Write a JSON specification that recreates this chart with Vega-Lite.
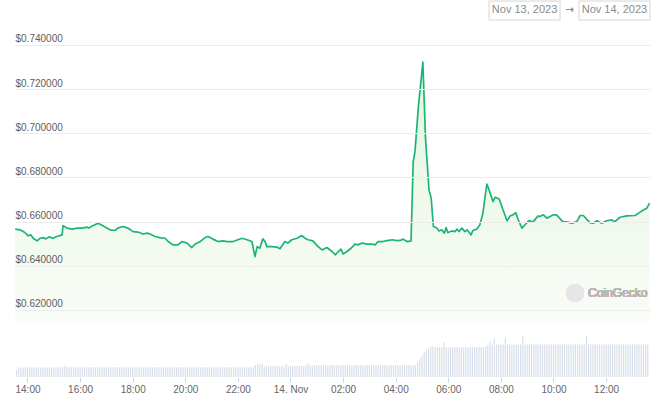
{
"$schema":"https://vega.github.io/schema/vega-lite/v6.json",
"width":635,"height":347,
"autosize":{"type":"none"},
"padding":{"left":15,"right":15,"top":30,"bottom":27},
"background":"white",
"config":{"view":{"stroke":null}},
"datasets":{
"price":[
{"t":"2023-11-13T13:32Z","p":0.6566},{"t":"2023-11-13T13:43Z","p":0.6563},{"t":"2023-11-13T13:54Z","p":0.6551},{"t":"2023-11-13T14:01Z","p":0.6537},{"t":"2023-11-13T14:08Z","p":0.6540},{"t":"2023-11-13T14:13Z","p":0.6525},{"t":"2023-11-13T14:22Z","p":0.6513},{"t":"2023-11-13T14:29Z","p":0.6525},{"t":"2023-11-13T14:35Z","p":0.6528},{"t":"2023-11-13T14:42Z","p":0.6522},{"t":"2023-11-13T14:49Z","p":0.6531},{"t":"2023-11-13T14:58Z","p":0.6525},{"t":"2023-11-13T15:07Z","p":0.6533},{"t":"2023-11-13T15:19Z","p":0.6540},{"t":"2023-11-13T15:21Z","p":0.6582},{"t":"2023-11-13T15:30Z","p":0.6571},{"t":"2023-11-13T15:42Z","p":0.6566},{"t":"2023-11-13T15:53Z","p":0.6571},{"t":"2023-11-13T16:04Z","p":0.6571},{"t":"2023-11-13T16:16Z","p":0.6575},{"t":"2023-11-13T16:20Z","p":0.6571},{"t":"2023-11-13T16:29Z","p":0.6581},{"t":"2023-11-13T16:41Z","p":0.6593},{"t":"2023-11-13T16:52Z","p":0.6581},{"t":"2023-11-13T17:08Z","p":0.6563},{"t":"2023-11-13T17:20Z","p":0.6560},{"t":"2023-11-13T17:26Z","p":0.6571},{"t":"2023-11-13T17:38Z","p":0.6578},{"t":"2023-11-13T17:49Z","p":0.6571},{"t":"2023-11-13T18:01Z","p":0.6555},{"t":"2023-11-13T18:12Z","p":0.6553},{"t":"2023-11-13T18:24Z","p":0.6544},{"t":"2023-11-13T18:33Z","p":0.6548},{"t":"2023-11-13T18:40Z","p":0.6544},{"t":"2023-11-13T18:51Z","p":0.6533},{"t":"2023-11-13T19:02Z","p":0.6528},{"t":"2023-11-13T19:14Z","p":0.6525},{"t":"2023-11-13T19:21Z","p":0.6510},{"t":"2023-11-13T19:32Z","p":0.6495},{"t":"2023-11-13T19:43Z","p":0.6495},{"t":"2023-11-13T19:53Z","p":0.6510},{"t":"2023-11-13T20:04Z","p":0.6503},{"t":"2023-11-13T20:15Z","p":0.6483},{"t":"2023-11-13T20:22Z","p":0.6498},{"t":"2023-11-13T20:34Z","p":0.6510},{"t":"2023-11-13T20:45Z","p":0.6528},{"t":"2023-11-13T20:52Z","p":0.6533},{"t":"2023-11-13T21:03Z","p":0.6521},{"t":"2023-11-13T21:15Z","p":0.6510},{"t":"2023-11-13T21:26Z","p":0.6513},{"t":"2023-11-13T21:35Z","p":0.6510},{"t":"2023-11-13T21:49Z","p":0.6510},{"t":"2023-11-13T22:00Z","p":0.6518},{"t":"2023-11-13T22:09Z","p":0.6525},{"t":"2023-11-13T22:21Z","p":0.6518},{"t":"2023-11-13T22:32Z","p":0.6510},{"t":"2023-11-13T22:39Z","p":0.6442},{"t":"2023-11-13T22:44Z","p":0.6487},{"t":"2023-11-13T22:50Z","p":0.6480},{"t":"2023-11-13T22:57Z","p":0.6522},{"t":"2023-11-13T23:02Z","p":0.6510},{"t":"2023-11-13T23:06Z","p":0.6487},{"t":"2023-11-13T23:18Z","p":0.6487},{"t":"2023-11-13T23:29Z","p":0.6485},{"t":"2023-11-13T23:36Z","p":0.6477},{"t":"2023-11-13T23:47Z","p":0.6510},{"t":"2023-11-13T23:54Z","p":0.6503},
{"t":"2023-11-14T00:03Z","p":0.6518},{"t":"2023-11-14T00:15Z","p":0.6525},{"t":"2023-11-14T00:26Z","p":0.6537},{"t":"2023-11-14T00:33Z","p":0.6525},{"t":"2023-11-14T00:40Z","p":0.6518},{"t":"2023-11-14T00:51Z","p":0.6513},{"t":"2023-11-14T01:03Z","p":0.6487},{"t":"2023-11-14T01:12Z","p":0.6472},{"t":"2023-11-14T01:23Z","p":0.6483},{"t":"2023-11-14T01:35Z","p":0.6465},{"t":"2023-11-14T01:42Z","p":0.6450},{"t":"2023-11-14T01:48Z","p":0.6462},{"t":"2023-11-14T01:55Z","p":0.6476},{"t":"2023-11-14T02:00Z","p":0.6454},{"t":"2023-11-14T02:09Z","p":0.6465},{"t":"2023-11-14T02:20Z","p":0.6483},{"t":"2023-11-14T02:27Z","p":0.6498},{"t":"2023-11-14T02:34Z","p":0.6495},{"t":"2023-11-14T02:43Z","p":0.6503},{"t":"2023-11-14T02:55Z","p":0.6498},{"t":"2023-11-14T03:06Z","p":0.6498},{"t":"2023-11-14T03:13Z","p":0.6495},{"t":"2023-11-14T03:20Z","p":0.6510},{"t":"2023-11-14T03:31Z","p":0.6510},{"t":"2023-11-14T03:40Z","p":0.6514},{"t":"2023-11-14T03:52Z","p":0.6518},{"t":"2023-11-14T04:03Z","p":0.6514},{"t":"2023-11-14T04:10Z","p":0.6515},{"t":"2023-11-14T04:17Z","p":0.6521},{"t":"2023-11-14T04:26Z","p":0.6510},{"t":"2023-11-14T04:35Z","p":0.6513},{"t":"2023-11-14T04:40Z","p":0.6872},{"t":"2023-11-14T04:44Z","p":0.6917},{"t":"2023-11-14T04:52Z","p":0.7128},{"t":"2023-11-14T05:02Z","p":0.7322},{"t":"2023-11-14T05:08Z","p":0.6978},{"t":"2023-11-14T05:16Z","p":0.6744},{"t":"2023-11-14T05:21Z","p":0.6706},{"t":"2023-11-14T05:26Z","p":0.6578},{"t":"2023-11-14T05:34Z","p":0.6571},{"t":"2023-11-14T05:39Z","p":0.6558},{"t":"2023-11-14T05:45Z","p":0.6563},{"t":"2023-11-14T05:51Z","p":0.6548},{"t":"2023-11-14T05:55Z","p":0.6573},{"t":"2023-11-14T05:59Z","p":0.6551},{"t":"2023-11-14T06:08Z","p":0.6558},{"t":"2023-11-14T06:15Z","p":0.6555},{"t":"2023-11-14T06:20Z","p":0.6566},{"t":"2023-11-14T06:24Z","p":0.6555},{"t":"2023-11-14T06:31Z","p":0.6571},{"t":"2023-11-14T06:38Z","p":0.6555},{"t":"2023-11-14T06:43Z","p":0.6563},{"t":"2023-11-14T06:52Z","p":0.6540},{"t":"2023-11-14T06:56Z","p":0.6560},{"t":"2023-11-14T07:05Z","p":0.6566},{"t":"2023-11-14T07:12Z","p":0.6586},{"t":"2023-11-14T07:19Z","p":0.6638},{"t":"2023-11-14T07:24Z","p":0.6714},{"t":"2023-11-14T07:28Z","p":0.6770},{"t":"2023-11-14T07:33Z","p":0.6744},{"t":"2023-11-14T07:42Z","p":0.6691},{"t":"2023-11-14T07:47Z","p":0.6711},{"t":"2023-11-14T07:56Z","p":0.6703},{"t":"2023-11-14T08:05Z","p":0.6653},{"t":"2023-11-14T08:14Z","p":0.6604},{"t":"2023-11-14T08:21Z","p":0.6626},{"t":"2023-11-14T08:28Z","p":0.6631},{"t":"2023-11-14T08:34Z","p":0.6641},{"t":"2023-11-14T08:39Z","p":0.6611},{"t":"2023-11-14T08:48Z","p":0.6571},{"t":"2023-11-14T08:55Z","p":0.6586},{"t":"2023-11-14T09:04Z","p":0.6605},{"t":"2023-11-14T09:13Z","p":0.6598},{"t":"2023-11-14T09:25Z","p":0.6626},{"t":"2023-11-14T09:29Z","p":0.6623},{"t":"2023-11-14T09:37Z","p":0.6631},{"t":"2023-11-14T09:45Z","p":0.6616},{"t":"2023-11-14T09:52Z","p":0.6623},{"t":"2023-11-14T10:00Z","p":0.6631},{"t":"2023-11-14T10:07Z","p":0.6631},{"t":"2023-11-14T10:21Z","p":0.6600},{"t":"2023-11-14T10:33Z","p":0.6598},{"t":"2023-11-14T10:42Z","p":0.6593},{"t":"2023-11-14T10:53Z","p":0.6600},{"t":"2023-11-14T11:01Z","p":0.6628},{"t":"2023-11-14T11:08Z","p":0.6628},{"t":"2023-11-14T11:23Z","p":0.6596},{"t":"2023-11-14T11:31Z","p":0.6593},{"t":"2023-11-14T11:39Z","p":0.6604},{"t":"2023-11-14T11:50Z","p":0.6593},{"t":"2023-11-14T12:01Z","p":0.6604},{"t":"2023-11-14T12:13Z","p":0.6608},{"t":"2023-11-14T12:20Z","p":0.6600},{"t":"2023-11-14T12:32Z","p":0.6620},{"t":"2023-11-14T12:47Z","p":0.6626},{"t":"2023-11-14T13:06Z","p":0.6628},{"t":"2023-11-14T13:16Z","p":0.6641},{"t":"2023-11-14T13:25Z","p":0.6653},{"t":"2023-11-14T13:33Z","p":0.6661},{"t":"2023-11-14T13:39Z","p":0.6684}
],
"vol":[
{"t":"2023-11-13T13:35Z","v":7.5},{"t":"2023-11-13T13:40Z","v":9.4},{"t":"2023-11-13T13:45Z","v":9.6},{"t":"2023-11-13T13:50Z","v":9.5},{"t":"2023-11-13T13:55Z","v":9.7},
{"t":"2023-11-13T14:00Z","v":9.6},{"t":"2023-11-13T14:05Z","v":9.7},{"t":"2023-11-13T14:10Z","v":9.5},{"t":"2023-11-13T14:15Z","v":9.6},{"t":"2023-11-13T14:20Z","v":9.6},{"t":"2023-11-13T14:25Z","v":9.8},{"t":"2023-11-13T14:30Z","v":9.6},{"t":"2023-11-13T14:35Z","v":9.5},{"t":"2023-11-13T14:40Z","v":9.7},{"t":"2023-11-13T14:45Z","v":9.6},{"t":"2023-11-13T14:50Z","v":9.6},{"t":"2023-11-13T14:55Z","v":9.7},
{"t":"2023-11-13T15:00Z","v":9.7},{"t":"2023-11-13T15:05Z","v":9.6},{"t":"2023-11-13T15:10Z","v":9.8},{"t":"2023-11-13T15:15Z","v":9.7},{"t":"2023-11-13T15:20Z","v":9.9},{"t":"2023-11-13T15:25Z","v":11.4},{"t":"2023-11-13T15:30Z","v":9.8},{"t":"2023-11-13T15:35Z","v":9.7},{"t":"2023-11-13T15:40Z","v":9.8},{"t":"2023-11-13T15:45Z","v":9.7},{"t":"2023-11-13T15:50Z","v":9.8},{"t":"2023-11-13T15:55Z","v":9.8},
{"t":"2023-11-13T16:00Z","v":9.8},{"t":"2023-11-13T16:05Z","v":9.7},{"t":"2023-11-13T16:10Z","v":9.8},{"t":"2023-11-13T16:15Z","v":9.7},{"t":"2023-11-13T16:20Z","v":9.8},{"t":"2023-11-13T16:25Z","v":9.8},{"t":"2023-11-13T16:30Z","v":9.7},{"t":"2023-11-13T16:35Z","v":9.8},{"t":"2023-11-13T16:40Z","v":9.7},{"t":"2023-11-13T16:45Z","v":9.8},{"t":"2023-11-13T16:50Z","v":9.7},{"t":"2023-11-13T16:55Z","v":9.8},
{"t":"2023-11-13T17:00Z","v":9.8},{"t":"2023-11-13T17:05Z","v":9.7},{"t":"2023-11-13T17:10Z","v":9.8},{"t":"2023-11-13T17:15Z","v":9.8},{"t":"2023-11-13T17:20Z","v":9.7},{"t":"2023-11-13T17:25Z","v":9.8},{"t":"2023-11-13T17:30Z","v":9.7},{"t":"2023-11-13T17:35Z","v":9.8},{"t":"2023-11-13T17:40Z","v":9.8},{"t":"2023-11-13T17:45Z","v":9.7},{"t":"2023-11-13T17:50Z","v":9.8},{"t":"2023-11-13T17:55Z","v":9.7},
{"t":"2023-11-13T18:00Z","v":9.7},{"t":"2023-11-13T18:05Z","v":9.8},{"t":"2023-11-13T18:10Z","v":9.7},{"t":"2023-11-13T18:15Z","v":9.8},{"t":"2023-11-13T18:20Z","v":9.7},{"t":"2023-11-13T18:25Z","v":9.7},{"t":"2023-11-13T18:30Z","v":9.8},{"t":"2023-11-13T18:35Z","v":9.7},{"t":"2023-11-13T18:40Z","v":9.8},{"t":"2023-11-13T18:45Z","v":9.7},{"t":"2023-11-13T18:50Z","v":9.7},{"t":"2023-11-13T18:55Z","v":9.8},
{"t":"2023-11-13T19:00Z","v":9.8},{"t":"2023-11-13T19:05Z","v":9.7},{"t":"2023-11-13T19:10Z","v":9.7},{"t":"2023-11-13T19:15Z","v":9.8},{"t":"2023-11-13T19:20Z","v":9.7},{"t":"2023-11-13T19:25Z","v":9.8},{"t":"2023-11-13T19:30Z","v":9.7},{"t":"2023-11-13T19:35Z","v":9.7},{"t":"2023-11-13T19:40Z","v":9.8},{"t":"2023-11-13T19:45Z","v":9.7},{"t":"2023-11-13T19:50Z","v":9.8},{"t":"2023-11-13T19:55Z","v":9.7},
{"t":"2023-11-13T20:00Z","v":9.7},{"t":"2023-11-13T20:05Z","v":9.8},{"t":"2023-11-13T20:10Z","v":9.7},{"t":"2023-11-13T20:15Z","v":9.8},{"t":"2023-11-13T20:20Z","v":9.7},{"t":"2023-11-13T20:25Z","v":9.7},{"t":"2023-11-13T20:30Z","v":9.8},{"t":"2023-11-13T20:35Z","v":9.7},{"t":"2023-11-13T20:40Z","v":9.8},{"t":"2023-11-13T20:45Z","v":9.7},{"t":"2023-11-13T20:50Z","v":9.8},{"t":"2023-11-13T20:55Z","v":9.7},
{"t":"2023-11-13T21:00Z","v":9.8},{"t":"2023-11-13T21:05Z","v":9.7},{"t":"2023-11-13T21:10Z","v":9.8},{"t":"2023-11-13T21:15Z","v":9.7},{"t":"2023-11-13T21:20Z","v":9.7},{"t":"2023-11-13T21:25Z","v":9.8},{"t":"2023-11-13T21:30Z","v":9.7},{"t":"2023-11-13T21:35Z","v":9.8},{"t":"2023-11-13T21:40Z","v":9.7},{"t":"2023-11-13T21:45Z","v":9.8},{"t":"2023-11-13T21:50Z","v":9.7},{"t":"2023-11-13T21:55Z","v":9.8},
{"t":"2023-11-13T22:00Z","v":9.7},{"t":"2023-11-13T22:05Z","v":9.8},{"t":"2023-11-13T22:10Z","v":9.7},{"t":"2023-11-13T22:15Z","v":9.8},{"t":"2023-11-13T22:20Z","v":9.7},{"t":"2023-11-13T22:25Z","v":9.8},{"t":"2023-11-13T22:30Z","v":9.8},{"t":"2023-11-13T22:35Z","v":9.9},{"t":"2023-11-13T22:40Z","v":12.0},{"t":"2023-11-13T22:45Z","v":12.9},{"t":"2023-11-13T22:50Z","v":12.4},{"t":"2023-11-13T22:55Z","v":12.9},
{"t":"2023-11-13T23:00Z","v":10.8},{"t":"2023-11-13T23:05Z","v":10.9},{"t":"2023-11-13T23:10Z","v":10.8},{"t":"2023-11-13T23:15Z","v":10.8},{"t":"2023-11-13T23:20Z","v":10.9},{"t":"2023-11-13T23:25Z","v":10.8},{"t":"2023-11-13T23:30Z","v":10.9},{"t":"2023-11-13T23:35Z","v":10.8},{"t":"2023-11-13T23:40Z","v":10.9},{"t":"2023-11-13T23:45Z","v":10.8},{"t":"2023-11-13T23:50Z","v":13.2},{"t":"2023-11-13T23:55Z","v":10.9},
{"t":"2023-11-14T00:00Z","v":10.9},{"t":"2023-11-14T00:05Z","v":11.0},{"t":"2023-11-14T00:10Z","v":10.9},{"t":"2023-11-14T00:15Z","v":11.0},{"t":"2023-11-14T00:20Z","v":11.0},{"t":"2023-11-14T00:25Z","v":11.1},{"t":"2023-11-14T00:30Z","v":11.0},{"t":"2023-11-14T00:35Z","v":11.0},{"t":"2023-11-14T00:40Z","v":13.4},{"t":"2023-11-14T00:45Z","v":11.7},{"t":"2023-11-14T00:50Z","v":11.7},{"t":"2023-11-14T00:55Z","v":11.8},
{"t":"2023-11-14T01:00Z","v":11.7},{"t":"2023-11-14T01:05Z","v":11.8},{"t":"2023-11-14T01:10Z","v":11.7},{"t":"2023-11-14T01:15Z","v":11.8},{"t":"2023-11-14T01:20Z","v":11.7},{"t":"2023-11-14T01:25Z","v":11.7},{"t":"2023-11-14T01:30Z","v":11.8},{"t":"2023-11-14T01:35Z","v":11.7},{"t":"2023-11-14T01:40Z","v":11.8},{"t":"2023-11-14T01:45Z","v":11.7},{"t":"2023-11-14T01:50Z","v":11.7},{"t":"2023-11-14T01:55Z","v":11.8},
{"t":"2023-11-14T02:00Z","v":11.7},{"t":"2023-11-14T02:05Z","v":11.8},{"t":"2023-11-14T02:10Z","v":11.7},{"t":"2023-11-14T02:15Z","v":11.8},{"t":"2023-11-14T02:20Z","v":11.7},{"t":"2023-11-14T02:25Z","v":11.7},{"t":"2023-11-14T02:30Z","v":11.8},{"t":"2023-11-14T02:35Z","v":11.7},{"t":"2023-11-14T02:40Z","v":11.8},{"t":"2023-11-14T02:45Z","v":11.7},{"t":"2023-11-14T02:50Z","v":11.7},{"t":"2023-11-14T02:55Z","v":11.8},
{"t":"2023-11-14T03:00Z","v":11.7},{"t":"2023-11-14T03:05Z","v":11.8},{"t":"2023-11-14T03:10Z","v":11.7},{"t":"2023-11-14T03:15Z","v":11.8},{"t":"2023-11-14T03:20Z","v":11.7},{"t":"2023-11-14T03:25Z","v":11.7},{"t":"2023-11-14T03:30Z","v":11.8},{"t":"2023-11-14T03:35Z","v":11.7},{"t":"2023-11-14T03:40Z","v":11.8},{"t":"2023-11-14T03:45Z","v":11.7},{"t":"2023-11-14T03:50Z","v":11.7},{"t":"2023-11-14T03:55Z","v":11.8},
{"t":"2023-11-14T04:00Z","v":11.7},{"t":"2023-11-14T04:05Z","v":11.8},{"t":"2023-11-14T04:10Z","v":11.7},{"t":"2023-11-14T04:15Z","v":11.8},{"t":"2023-11-14T04:20Z","v":11.7},{"t":"2023-11-14T04:25Z","v":11.8},{"t":"2023-11-14T04:30Z","v":11.7},{"t":"2023-11-14T04:35Z","v":11.8},{"t":"2023-11-14T04:40Z","v":11.7},{"t":"2023-11-14T04:45Z","v":11.8},{"t":"2023-11-14T04:50Z","v":14.5},{"t":"2023-11-14T04:55Z","v":18.0},
{"t":"2023-11-14T05:00Z","v":21.5},{"t":"2023-11-14T05:05Z","v":24.5},{"t":"2023-11-14T05:10Z","v":27.0},{"t":"2023-11-14T05:15Z","v":29.0},{"t":"2023-11-14T05:20Z","v":30.2},{"t":"2023-11-14T05:25Z","v":30.8},{"t":"2023-11-14T05:30Z","v":29.6},{"t":"2023-11-14T05:35Z","v":29.7},{"t":"2023-11-14T05:40Z","v":29.6},{"t":"2023-11-14T05:45Z","v":29.8},{"t":"2023-11-14T05:50Z","v":35.0},{"t":"2023-11-14T05:55Z","v":29.7},
{"t":"2023-11-14T06:00Z","v":29.6},{"t":"2023-11-14T06:05Z","v":29.7},{"t":"2023-11-14T06:10Z","v":29.8},{"t":"2023-11-14T06:15Z","v":29.7},{"t":"2023-11-14T06:20Z","v":29.8},{"t":"2023-11-14T06:25Z","v":29.7},{"t":"2023-11-14T06:30Z","v":29.8},{"t":"2023-11-14T06:35Z","v":29.8},{"t":"2023-11-14T06:40Z","v":29.9},{"t":"2023-11-14T06:45Z","v":29.8},{"t":"2023-11-14T06:50Z","v":29.9},{"t":"2023-11-14T06:55Z","v":29.8},
{"t":"2023-11-14T07:00Z","v":29.9},{"t":"2023-11-14T07:05Z","v":30.0},{"t":"2023-11-14T07:10Z","v":29.9},{"t":"2023-11-14T07:15Z","v":30.0},{"t":"2023-11-14T07:20Z","v":30.1},{"t":"2023-11-14T07:25Z","v":30.0},{"t":"2023-11-14T07:30Z","v":32.0},{"t":"2023-11-14T07:35Z","v":35.4},{"t":"2023-11-14T07:40Z","v":32.3},{"t":"2023-11-14T07:45Z","v":38.4},{"t":"2023-11-14T07:50Z","v":32.4},{"t":"2023-11-14T07:55Z","v":32.5},
{"t":"2023-11-14T08:00Z","v":32.5},{"t":"2023-11-14T08:05Z","v":32.6},{"t":"2023-11-14T08:10Z","v":39.0},{"t":"2023-11-14T08:15Z","v":32.4},{"t":"2023-11-14T08:20Z","v":32.5},{"t":"2023-11-14T08:25Z","v":32.6},{"t":"2023-11-14T08:30Z","v":32.5},{"t":"2023-11-14T08:35Z","v":32.6},{"t":"2023-11-14T08:40Z","v":32.5},{"t":"2023-11-14T08:45Z","v":32.6},{"t":"2023-11-14T08:50Z","v":40.5},{"t":"2023-11-14T08:55Z","v":32.6},
{"t":"2023-11-14T09:00Z","v":32.6},{"t":"2023-11-14T09:05Z","v":32.5},{"t":"2023-11-14T09:10Z","v":32.7},{"t":"2023-11-14T09:15Z","v":32.6},{"t":"2023-11-14T09:20Z","v":32.7},{"t":"2023-11-14T09:25Z","v":32.6},{"t":"2023-11-14T09:30Z","v":32.7},{"t":"2023-11-14T09:35Z","v":32.6},{"t":"2023-11-14T09:40Z","v":32.7},{"t":"2023-11-14T09:45Z","v":32.6},{"t":"2023-11-14T09:50Z","v":32.7},{"t":"2023-11-14T09:55Z","v":32.6},
{"t":"2023-11-14T10:00Z","v":32.7},{"t":"2023-11-14T10:05Z","v":32.6},{"t":"2023-11-14T10:10Z","v":32.7},{"t":"2023-11-14T10:15Z","v":32.6},{"t":"2023-11-14T10:20Z","v":32.7},{"t":"2023-11-14T10:25Z","v":32.6},{"t":"2023-11-14T10:30Z","v":32.7},{"t":"2023-11-14T10:35Z","v":32.6},{"t":"2023-11-14T10:40Z","v":32.7},{"t":"2023-11-14T10:45Z","v":32.6},{"t":"2023-11-14T10:50Z","v":32.7},{"t":"2023-11-14T10:55Z","v":32.6},
{"t":"2023-11-14T11:00Z","v":32.7},{"t":"2023-11-14T11:05Z","v":32.6},{"t":"2023-11-14T11:10Z","v":32.7},{"t":"2023-11-14T11:15Z","v":41.4},{"t":"2023-11-14T11:20Z","v":32.6},{"t":"2023-11-14T11:25Z","v":32.7},{"t":"2023-11-14T11:30Z","v":32.6},{"t":"2023-11-14T11:35Z","v":32.7},{"t":"2023-11-14T11:40Z","v":32.6},{"t":"2023-11-14T11:45Z","v":32.7},{"t":"2023-11-14T11:50Z","v":32.6},{"t":"2023-11-14T11:55Z","v":32.7},
{"t":"2023-11-14T12:00Z","v":32.6},{"t":"2023-11-14T12:05Z","v":32.7},{"t":"2023-11-14T12:10Z","v":32.6},{"t":"2023-11-14T12:15Z","v":32.7},{"t":"2023-11-14T12:20Z","v":32.6},{"t":"2023-11-14T12:25Z","v":32.7},{"t":"2023-11-14T12:30Z","v":32.6},{"t":"2023-11-14T12:35Z","v":32.7},{"t":"2023-11-14T12:40Z","v":32.6},{"t":"2023-11-14T12:45Z","v":32.7},{"t":"2023-11-14T12:50Z","v":32.6},{"t":"2023-11-14T12:55Z","v":32.7},
{"t":"2023-11-14T13:00Z","v":32.6},{"t":"2023-11-14T13:05Z","v":32.7},{"t":"2023-11-14T13:10Z","v":32.6},{"t":"2023-11-14T13:15Z","v":32.7},{"t":"2023-11-14T13:20Z","v":32.6},{"t":"2023-11-14T13:25Z","v":32.7},{"t":"2023-11-14T13:30Z","v":32.6},{"t":"2023-11-14T13:35Z","v":32.7}
],
"range":[
{"label":"Nov 13, 2023","from":"2023-11-14T07:33Z","to":"2023-11-14T10:15Z","mid":"2023-11-14T08:54Z"},
{"label":"Nov 14, 2023","from":"2023-11-14T10:58Z","to":"2023-11-14T13:40Z","mid":"2023-11-14T12:19Z"}
]
},
"layer":[
{"data":{"name":"vol"},
 "mark":{"type":"bar","color":"#d8dfea","size":1.2},
 "encoding":{
  "x":{"field":"t","type":"temporal",
   "scale":{"type":"utc","padding":0,"domain":[{"year":2023,"month":11,"date":13,"hours":13,"minutes":31,"seconds":30,"utc":true},{"year":2023,"month":11,"date":14,"hours":13,"minutes":40,"seconds":10,"utc":true}]},
   "axis":{"title":null,"grid":false,"domain":false,"ticks":true,"tickSize":5,"tickColor":"#ccd6eb","labelPadding":2,"labelFontSize":10,"labelFont":"Liberation Sans","labelColor":"#666666","labelFlush":false,"labelOverlap":false,
    "values":[{"year":2023,"month":11,"date":13,"hours":14,"utc":true},{"year":2023,"month":11,"date":13,"hours":16,"utc":true},{"year":2023,"month":11,"date":13,"hours":18,"utc":true},{"year":2023,"month":11,"date":13,"hours":20,"utc":true},{"year":2023,"month":11,"date":13,"hours":22,"utc":true},{"year":2023,"month":11,"date":14,"hours":0,"utc":true},{"year":2023,"month":11,"date":14,"hours":2,"utc":true},{"year":2023,"month":11,"date":14,"hours":4,"utc":true},{"year":2023,"month":11,"date":14,"hours":6,"utc":true},{"year":2023,"month":11,"date":14,"hours":8,"utc":true},{"year":2023,"month":11,"date":14,"hours":10,"utc":true},{"year":2023,"month":11,"date":14,"hours":12,"utc":true}],
    "labelExpr":"utchours(datum.value) == 0 ? utcFormat(datum.value, '%d. %b') : utcFormat(datum.value, '%H:%M')"}},
  "y":{"field":"v","type":"quantitative","scale":{"domain":[0,347],"nice":false},"axis":null}
 }
},
{"layer":[
  {"data":{"name":"price"},
   "mark":{"type":"area","color":{"gradient":"linear","x1":0,"y1":0,"x2":0,"y2":1,"stops":[{"offset":0,"color":"#e4f5dd"},{"offset":1,"color":"#f9fcf7"}]}},
   "encoding":{
    "x":{"field":"t","type":"temporal"},
    "y":{"field":"p","type":"quantitative","scale":{"domain":[0.58966,0.74679],"nice":false,"zero":false},
     "axis":{"title":null,"zindex":1,"values":[0.62,0.64,0.66,0.68,0.70,0.72,0.74],"format":"$.6f","orient":"left","domain":false,"ticks":false,"labelAlign":"left","labelBaseline":"bottom","labelPadding":0,"labelOffset":-1,"labelFontSize":10,"labelFont":"Liberation Sans","labelColor":"#606060","grid":true,"gridColor":"#ececec","gridWidth":1}},
    "y2":{"datum":0.615}}},
  {"data":{"name":"price"},
   "mark":{"type":"line","color":"#1db47a","strokeWidth":1.7,"strokeJoin":"round"},
   "encoding":{"x":{"field":"t","type":"temporal"},"y":{"field":"p","type":"quantitative"}}},
  {"data":{"name":"price"},
   "mark":{"type":"point","filled":true,"color":"#e6e6e6","size":330,"opacity":1},
   "encoding":{"x":{"datum":{"year":2023,"month":11,"date":14,"hours":10,"minutes":49,"utc":true}},"y":{"datum":0.6277}}},
  {"data":{"name":"price"},
   "mark":{"type":"text","text":"CoinGecko","align":"left","baseline":"middle","fontSize":12,"font":"Liberation Sans","color":"#b8b8b8"},
   "encoding":{"x":{"datum":{"year":2023,"month":11,"date":14,"hours":11,"minutes":19,"utc":true}},"y":{"datum":0.6277}}},
  {"data":{"name":"range"},
   "mark":{"type":"rect","fill":"white","stroke":"#d6d6d6","strokeWidth":1},
   "encoding":{"x":{"field":"from","type":"temporal"},"x2":{"field":"to"},"y":{"datum":0.75992},"y2":{"datum":0.75132}}},
  {"data":{"name":"range"},
   "mark":{"type":"text","align":"center","baseline":"middle","fontSize":11,"font":"Liberation Sans","color":"#8a8a8a"},
   "encoding":{"x":{"field":"mid","type":"temporal"},"y":{"datum":0.7557},"text":{"field":"label"}}},
  {"data":{"name":"range"},
   "mark":{"type":"text","text":"→","align":"center","baseline":"middle","fontSize":10,"font":"DejaVu Sans","color":"#8a8a8a"},
   "encoding":{"x":{"datum":{"year":2023,"month":11,"date":14,"hours":10,"minutes":37,"utc":true}},"y":{"datum":0.7557}}}
 ]}
],
"resolve":{"scale":{"y":"independent"}}
}
